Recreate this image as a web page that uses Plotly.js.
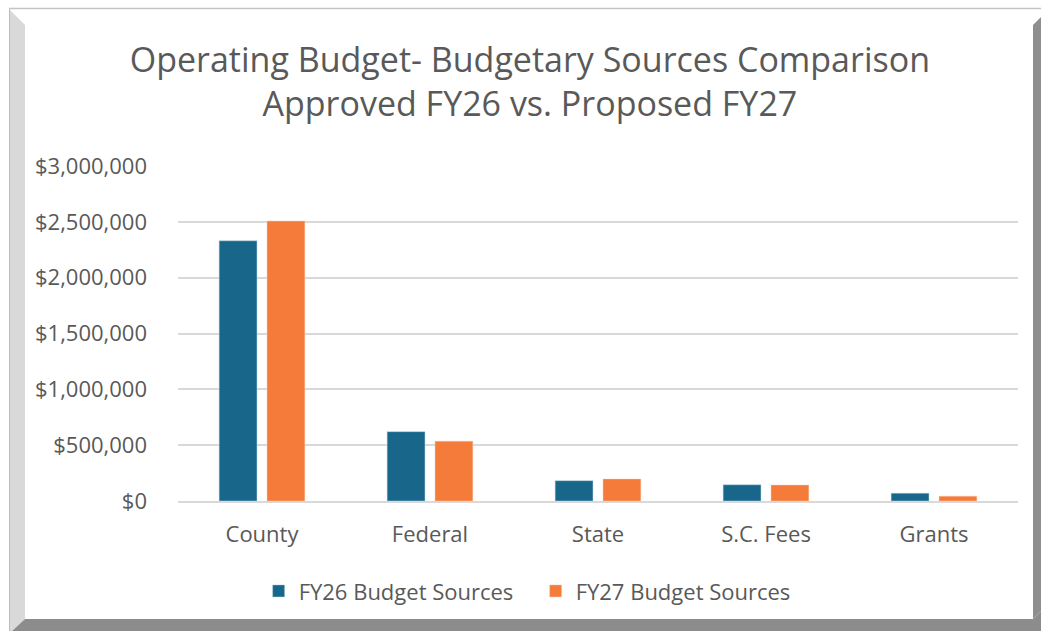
<!DOCTYPE html>
<html>
<head>
<meta charset="utf-8">
<script src="https://cdn.plot.ly/plotly-3.0.1.min.js"></script>
<style>
html,body{margin:0;padding:0;background:#ffffff;}
#wrap{position:relative;width:1041px;height:631px;overflow:hidden;}
#frame{position:absolute;left:0;top:0;}
#chart{position:absolute;left:0;top:0;width:1041px;height:631px;}
</style>
</head>
<body>
<div id="wrap">
<svg id="frame" width="1041" height="631" xmlns="http://www.w3.org/2000/svg">
  <rect x="0" y="0" width="1041" height="631" fill="#ffffff"/>
  <line x1="9" y1="8.5" x2="1041" y2="8.5" stroke="#c4c4c4" stroke-width="1.5"/>
  <polygon points="9,9 25,25 25,619 12,631 9,631" fill="#d9d9d9"/>
  <line x1="9.5" y1="9" x2="9.5" y2="631" stroke="#bdbdbd" stroke-width="1"/>
  <polygon points="12,631 25,619 1033,619 1041,611 1041,631" fill="#8c8c8c"/>
  <polygon points="1033,25 1041,17 1041,611 1033,619" fill="#8e8e8e"/>
</svg>
<div id="chart"></div>
</div>
<script>
var categories = ["County", "Federal", "State", "S.C. Fees", "Grants"];
var fy26 = [2330000, 621000, 182000, 145000, 70000];
var fy27 = [2507000, 536000, 197000, 143000, 43000];
var seriesNames = ["FY26 Budget Sources", "FY27 Budget Sources"];
var yTicks = [0, 500000, 1000000, 1500000, 2000000, 2500000, 3000000];

var FONT = "'Open Sans', 'Noto Sans', sans-serif";
var GRAY = "#595959";

var traces = [
  {type: "bar", name: seriesNames[0], x: categories, y: fy26,
   marker: {color: "#19668b", line: {color: "rgba(180,210,225,0.6)", width: 0.8}}, hoverinfo: "x+y"},
  {type: "bar", name: seriesNames[1], x: categories, y: fy27,
   marker: {color: "#f47b39", line: {color: "rgba(250,200,170,0.6)", width: 0.8}}, hoverinfo: "x+y"}
];

var layout = {
  width: 1041, height: 631,
  margin: {l: 178, r: 23, t: 166, b: 130},
  paper_bgcolor: "rgba(0,0,0,0)",
  plot_bgcolor: "rgba(0,0,0,0)",
  font: {family: FONT, color: GRAY, size: 22},
  title: {
    text: "Operating Budget- Budgetary Sources Comparison<br>Approved FY26 vs. Proposed FY27",
    font: {family: FONT, size: 34, color: GRAY},
    xref: "container", x: 0.509, xanchor: "center",
    yref: "container", y: 0.886, yanchor: "middle"
  },
  barmode: "group",
  bargap: 0.43,
  bargroupgap: 0.21,
  xaxis: {
    type: "category",
    showgrid: false, zeroline: false,
    showline: true, linecolor: "#d9d9d9", linewidth: 1.5,
    ticks: "", ticklabelstandoff: 13,
    tickfont: {family: FONT, size: 22, color: GRAY}
  },
  yaxis: {
    range: [0, 3000000],
    tickvals: yTicks,
    tickformat: "$,",
    showgrid: true, gridcolor: "#d9d9d9", gridwidth: 1.5,
    zeroline: false, showline: false,
    ticks: "", ticklabelstandoff: 30,
    tickfont: {family: FONT, size: 22, color: GRAY}
  },
  showlegend: true,
  legend: {
    orientation: "h",
    x: 0.096, xanchor: "left",
    y: -0.269, yanchor: "middle",
    font: {family: FONT, size: 22, color: GRAY},
    itemwidth: 30,
    entrywidth: 232, entrywidthmode: "pixels",
    traceorder: "normal"
  }
};

Plotly.newPlot("chart", traces, layout, {displayModeBar: false, staticPlot: false});
</script>
</body>
</html>
